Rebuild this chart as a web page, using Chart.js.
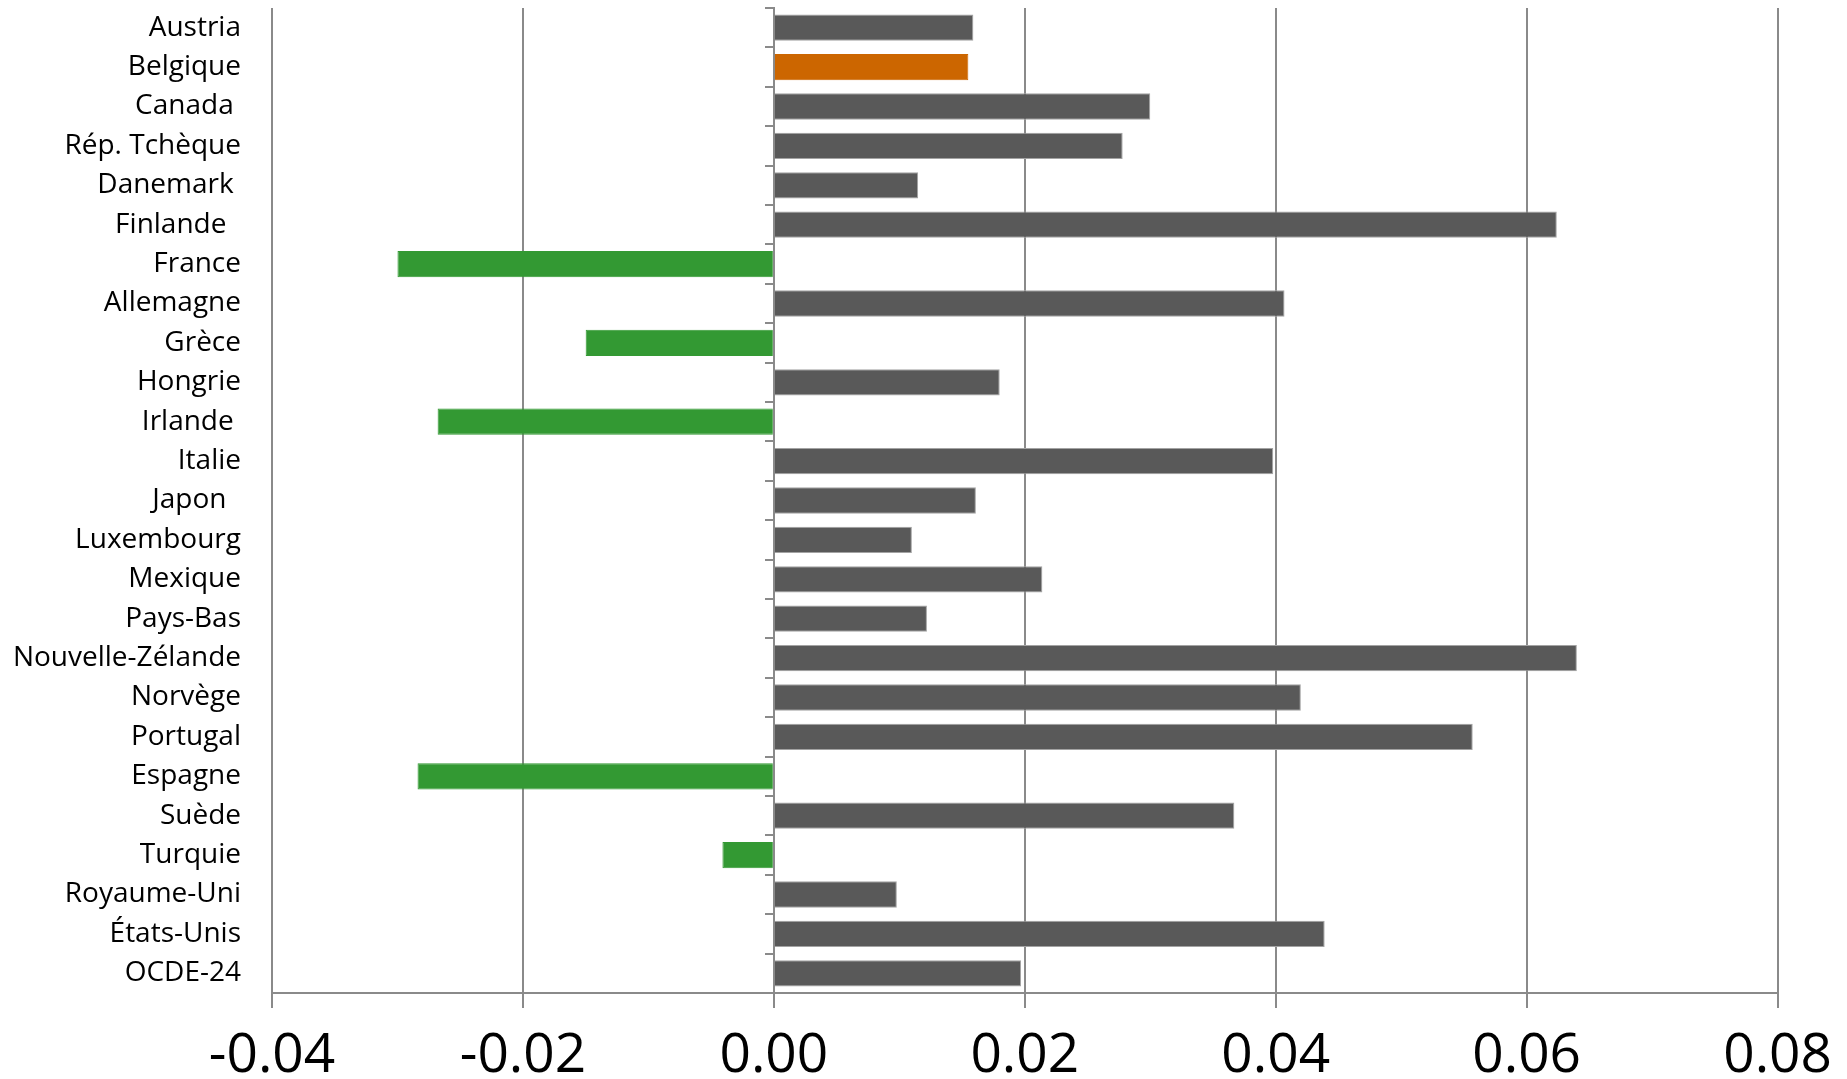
<!DOCTYPE html>
<html>
<head>
<meta charset="utf-8">
<script src="https://cdn.jsdelivr.net/npm/chart.js@4/dist/chart.umd.min.js"></script>
<style>
  html, body { margin: 0; padding: 0; background: #ffffff; }
  #wrap { width: 1847px; height: 1079px; }
</style>
</head>
<body>
<div id="wrap"><canvas id="chart" width="1847" height="1079"></canvas></div>
<script>
// Countries (trailing spaces kept as in the source labels)
const categories = [
  'Austria', 'Belgique', 'Canada ', 'Rép. Tchèque', 'Danemark ', 'Finlande  ',
  'France', 'Allemagne', 'Grèce', 'Hongrie', 'Irlande ', 'Italie', 'Japon  ',
  'Luxembourg', 'Mexique', 'Pays-Bas', 'Nouvelle-Zélande', 'Norvège',
  'Portugal', 'Espagne', 'Suède', 'Turquie', 'Royaume-Uni', 'États-Unis', 'OCDE-24'
];

const values = [
  0.0159, 0.0155, 0.0300, 0.0278, 0.0115, 0.0624,
  -0.0300, 0.0407, -0.0150, 0.0180, -0.0268, 0.0398, 0.0161,
  0.0110, 0.0214, 0.0122, 0.0640, 0.0420,
  0.0557, -0.0284, 0.0367, -0.0041, 0.0098, 0.0439, 0.0197
];

const xTickValues = [-0.04, -0.02, 0.00, 0.02, 0.04, 0.06, 0.08];

const highlighted = 'Belgique';

const GRAY = '#595959';
const ORANGE = '#cc6600';
const GREEN = '#339933';
const LINE = '#8a8a8a';

const fillColors = categories.map((c, i) =>
  c.trim() === highlighted ? ORANGE : (values[i] < 0 ? GREEN : GRAY));
const edgeColors = fillColors.map(c => c === GRAY ? '#a3a3a3' : c);

new Chart(document.getElementById('chart'), {
  type: 'bar',
  data: {
    labels: categories,
    datasets: [{
      data: values,
      backgroundColor: fillColors,
      borderColor: edgeColors,
      borderWidth: 1,
      barPercentage: 0.667,
      categoryPercentage: 1.0,
      yAxisID: 'y'
    }]
  },
  options: {
    indexAxis: 'y',
    responsive: false,
    animation: false,
    layout: { padding: { top: 8, right: 68, left: 0, bottom: 0 } },
    plugins: {
      legend: { display: false },
      tooltip: { enabled: false }
    },
    scales: {
      x: {
        type: 'linear',
        min: xTickValues[0],
        max: xTickValues[xTickValues.length - 1],
        afterBuildTicks: (scale) => {
          scale.ticks = xTickValues.map(v => ({ value: v }));
        },
        afterFit: (scale) => { scale.height = 86; },
        grid: {
          color: LINE,
          lineWidth: 2,
          drawTicks: true,
          tickLength: 15,
          tickColor: LINE
        },
        border: { display: true, color: LINE, width: 2 },
        ticks: {
          padding: 15,
          color: '#000000',
          font: { family: '"Open Sans", sans-serif', size: 55 },
          callback: (v) => Number(v).toFixed(2)
        }
      },
      y: {
        type: 'category',
        position: 'left',
        offset: true,
        afterFit: (scale) => {
          scale.width = 272;
          scale.paddingTop = 0;
          scale.paddingBottom = 0;
        },
        grid: { display: false, drawTicks: false },
        border: { display: false },
        ticks: {
          padding: 31,
          color: '#000000',
          autoSkip: false,
          font: { family: '"Open Sans", sans-serif', size: 28 }
        }
      },
      // zero line with category separators
      yZero: {
        type: 'category',
        position: { x: 0 },
        offset: true,
        afterFit: (scale) => {
          scale.paddingTop = 0;
          scale.paddingBottom = 0;
        },
        grid: {
          offset: true,
          drawOnChartArea: false,
          drawTicks: true,
          tickLength: 8,
          color: LINE,
          lineWidth: 2
        },
        border: { display: true, color: LINE, width: 2 },
        ticks: { display: false }
      }
    }
  }
});
</script>
</body>
</html>
